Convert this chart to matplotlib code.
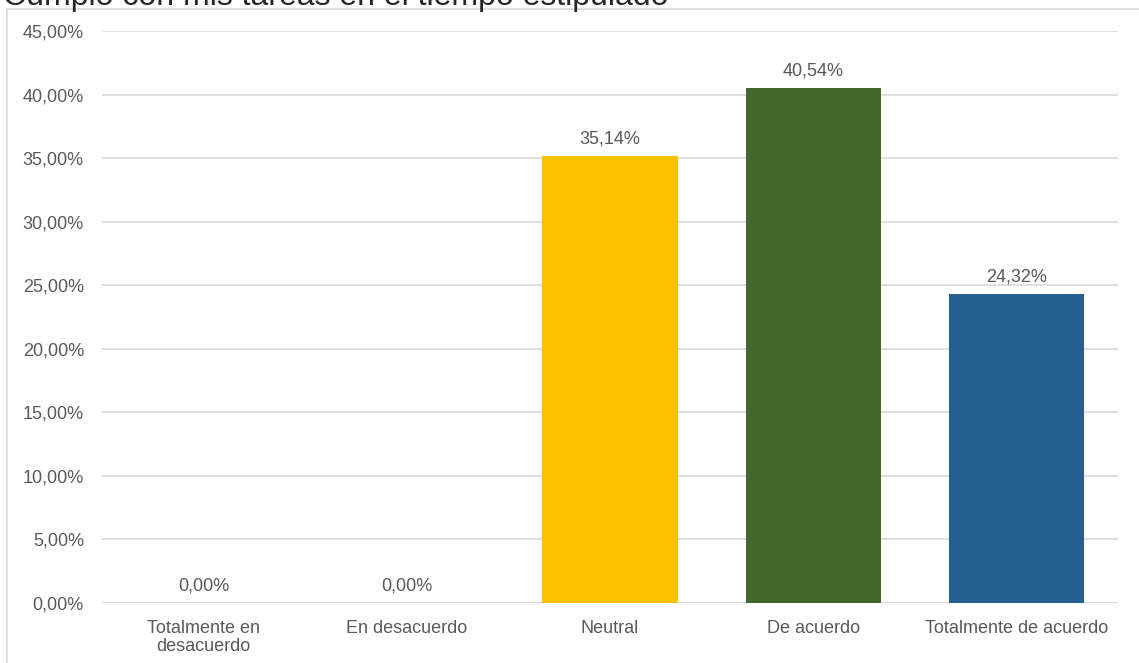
import matplotlib
matplotlib.use("Agg")
import matplotlib.pyplot as plt
from matplotlib.lines import Line2D
from matplotlib.ticker import FuncFormatter

categories = ["Totalmente en\ndesacuerdo", "En desacuerdo", "Neutral", "De acuerdo", "Totalmente de acuerdo"]
values = [0.0, 0.0, 35.14, 40.54, 24.32]
colors = ["#4472C4", "#ED7D31", "#FFC000", "#43682B", "#255E91"]
title = "Cumplo con mis tareas en el tiempo estipulado"

plt.rcParams['font.family'] = ['Liberation Sans', 'DejaVu Sans']
grey = "#595959"
fs = 13

W, H = 1139, 663
fig = plt.figure(figsize=(W / 100, H / 100), dpi=100)
ax = fig.add_axes([102 / W, 1 - 603 / H, (1118 - 102) / W, (603 - 31) / H])

x = range(len(categories))
bars = ax.bar(x, values, width=0.665, color=colors, zorder=3)

ax.set_ylim(0, 45)
ax.set_xlim(-0.5, len(categories) - 0.5)
ax.set_yticks(range(0, 46, 5))
ax.yaxis.set_major_formatter(FuncFormatter(lambda v, p: f"{v:.2f}%".replace(".", ",")))
ax.grid(axis='y', color="#d9d9d9", linewidth=1.2, zorder=0)
ax.set_xticks(list(x))
ax.set_xticklabels(categories, fontsize=fs, color=grey, linespacing=1.1)
ax.tick_params(axis='y', length=0, pad=13, labelsize=fs, labelcolor=grey)
ax.tick_params(axis='x', length=0, pad=12)
for s in ax.spines.values():
    s.set_visible(False)

for b, v in zip(bars, values):
    ax.annotate(f"{v:.2f}%".replace(".", ","), (b.get_x() + b.get_width() / 2, v),
                xytext=(0, 6), textcoords='offset points', ha='center', va='bottom',
                fontsize=fs, color=grey)

# chart area border (cropped on right and bottom)
fig.add_artist(Line2D([7 / W, 7 / W], [0, 1 - 9 / H], transform=fig.transFigure,
                      color="#d9d9d9", linewidth=1.2))
fig.add_artist(Line2D([7 / W, 1], [1 - 9 / H, 1 - 9 / H], transform=fig.transFigure,
                      color="#d9d9d9", linewidth=1.2))

# title, cropped at the top of the image
fig.text(3 / W, 1 - 5 / H, title, ha='left', va='baseline', fontsize=23, color="#262626")

fig.savefig("out.png", dpi=100)
